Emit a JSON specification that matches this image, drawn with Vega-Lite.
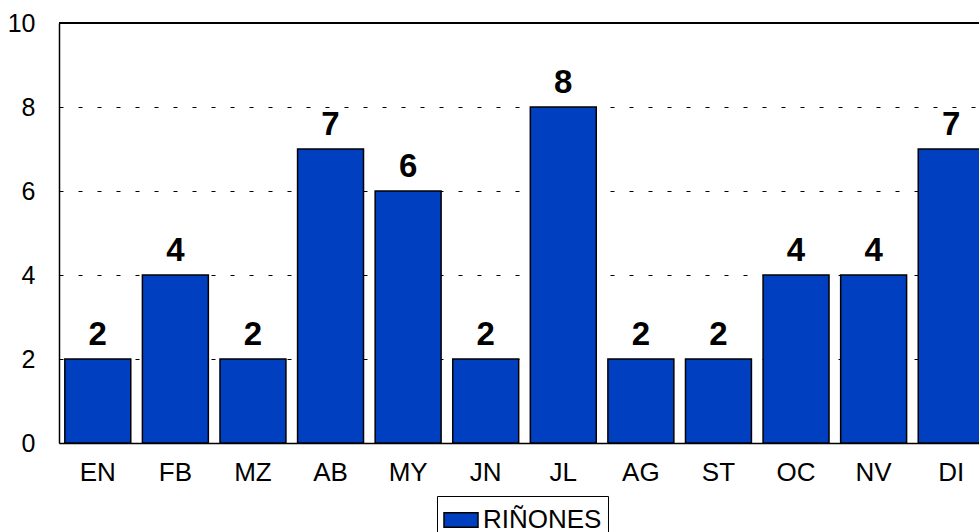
{
  "$schema": "https://vega.github.io/schema/vega-lite/v6.json",
  "autosize": {"type": "none"},
  "padding": {"left": 59, "top": 23, "right": 0, "bottom": 89},
  "width": 920,
  "height": 420,
  "background": "white",
  "config": {
    "view": {"stroke": null},
    "font": "Liberation Sans",
    "axis": {"labelFont": "Liberation Sans", "labelColor": "black", "domainColor": "black", "domainWidth": 1.5, "ticks": false, "title": null},
    "legend": {"labelFont": "Liberation Sans"}
  },
  "data": {
    "values": [
      {"mes": "EN", "valor": 2, "serie": "RIÑONES"},
      {"mes": "FB", "valor": 4, "serie": "RIÑONES"},
      {"mes": "MZ", "valor": 2, "serie": "RIÑONES"},
      {"mes": "AB", "valor": 7, "serie": "RIÑONES"},
      {"mes": "MY", "valor": 6, "serie": "RIÑONES"},
      {"mes": "JN", "valor": 2, "serie": "RIÑONES"},
      {"mes": "JL", "valor": 8, "serie": "RIÑONES"},
      {"mes": "AG", "valor": 2, "serie": "RIÑONES"},
      {"mes": "ST", "valor": 2, "serie": "RIÑONES"},
      {"mes": "OC", "valor": 4, "serie": "RIÑONES"},
      {"mes": "NV", "valor": 4, "serie": "RIÑONES"},
      {"mes": "DI", "valor": 7, "serie": "RIÑONES"}
    ]
  },
  "encoding": {
    "x": {
      "field": "mes", "type": "nominal", "sort": null,
      "scale": {"range": [0, 931], "paddingInner": 0.15, "paddingOuter": 0.075},
      "axis": {"labelAngle": 0, "labelFontSize": 26, "labelPadding": 16, "grid": false, "domain": true}
    },
    "y": {
      "field": "valor", "type": "quantitative",
      "scale": {"domain": [0, 10], "nice": false},
      "axis": {"values": [0, 2, 4, 6, 8, 10], "labelFontSize": 25, "labelPadding": 24, "grid": true, "gridColor": "black", "gridDash": [4, 15], "gridWidth": 1, "domain": true}
    }
  },
  "layer": [
    {
      "mark": {"type": "bar", "stroke": "black", "strokeWidth": 1.5},
      "encoding": {
        "color": {
          "field": "serie", "type": "nominal",
          "scale": {"range": ["#0040C0"]},
          "legend": {
            "title": null, "orient": "none", "legendX": 378, "legendY": 473,
            "strokeColor": "black", "fillColor": "white", "padding": 6,
            "symbolType": "M-1,-0.43H1V0.43H-1Z", "symbolSize": 1156,
            "symbolStrokeColor": "black", "symbolStrokeWidth": 1.5, "symbolFillColor": "#0040C0",
            "labelFontSize": 26, "labelColor": "black", "labelOffset": 4
          }
        }
      }
    },
    {
      "mark": {"type": "text", "fontSize": 33, "fontWeight": "bold", "baseline": "alphabetic", "dy": -14, "color": "black", "font": "Liberation Sans"},
      "encoding": {"text": {"field": "valor", "type": "quantitative"}}
    },
    {
      "mark": {"type": "rule", "color": "black", "strokeWidth": 1.5},
      "encoding": {"y": {"datum": 10}, "x": null}
    }
  ]
}
